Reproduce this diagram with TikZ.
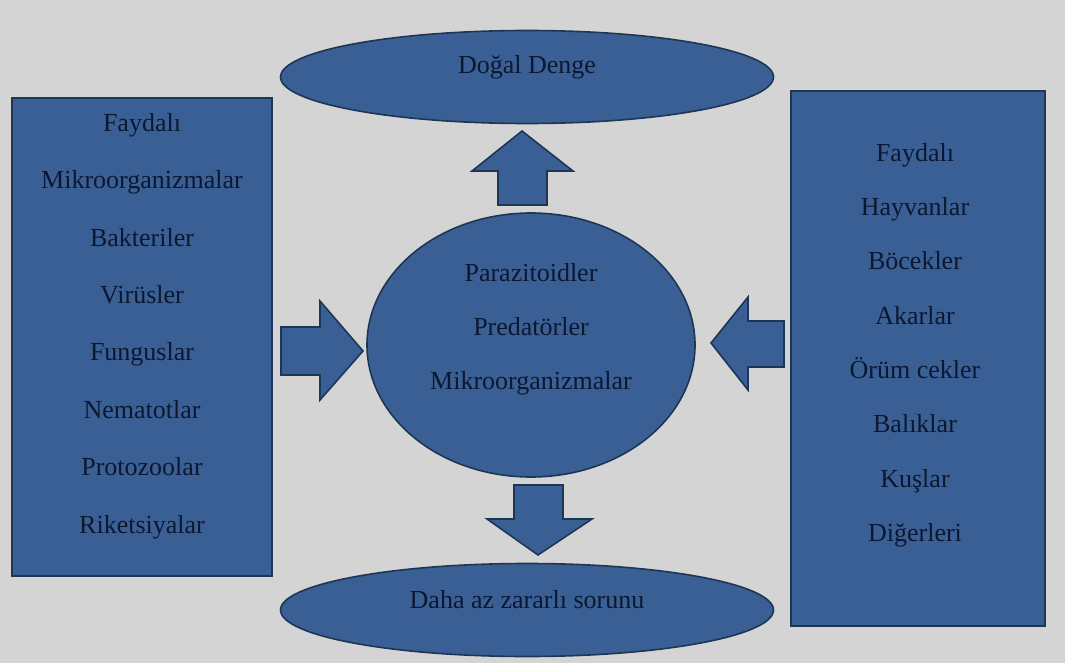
\documentclass[tikz,border=0pt]{standalone}
\usepackage{fontspec}
\setmainfont{Liberation Serif}
\usetikzlibrary{shapes.geometric,positioning}
\definecolor{bggrey}{HTML}{D4D4D4}
\definecolor{boxblue}{HTML}{3A5F95}
\definecolor{edgeblue}{HTML}{1E3656}
\definecolor{inkblue}{HTML}{0C1830}

\begin{document}
\begin{tikzpicture}[x=1pt,y=-1pt,
  every node/.style={font=\fontsize{26}{31}\selectfont,text=inkblue},
  label/.style={inner sep=0pt,text height=0.7em,text depth=0.25em},
  bluefill/.style={fill=boxblue,draw=edgeblue,line width=1.6pt,line join=miter},
  panel/.style={bluefill,rectangle,inner sep=0pt},
  oval/.style={bluefill,ellipse,inner sep=0pt}]
\fill[bggrey] (0,0) rectangle (1065,663);
\useasboundingbox (0,0) rectangle (1065,663);
% side panels
\node[panel,minimum width=260,minimum height=478] (leftbox) at (142,337) {};
\node[panel,minimum width=254,minimum height=535] (rightbox) at (918,358.5) {};
% ovals
\node[oval,minimum width=493,minimum height=93] (balance) at (527,77) {};
\node[oval,minimum width=493,minimum height=93] (lessharm) at (527,610) {};
\node[oval,minimum width=328,minimum height=264] (agents) at (531,345) {};
% block arrows
\draw[bluefill] (498,205)--(498,171)--(472,171)--(522,131)--(573,171)--(547,171)--(547,205)--cycle;
\draw[bluefill] (281,327)--(320,327)--(320,301)--(363,351)--(320,400)--(320,375)--(281,375)--cycle;
\draw[bluefill] (784,321)--(748,321)--(748,297)--(711,343)--(748,390)--(748,367)--(784,367)--cycle;
\draw[bluefill] (514,485)--(563,485)--(563,519)--(592,519)--(538,555)--(487,519)--(514,519)--cycle;
% texts
\node[label] (balancetext) at (527,71) {Doğal Denge};
\node[label] (lessharmtext) at (527,606) {Daha az zararlı sorunu};
\foreach \txt [count=\i] in {Parazitoidler,Predatörler,Mikroorganizmalar}
  \node[label] (agent\i) at (531,{279+54*(\i-1)}) {\txt};
\foreach \txt [count=\i] in {Faydalı,Mikroorganizmalar,Bakteriler,Virüsler,Funguslar,Nematotlar,Protozoolar,Riketsiyalar}
  \node[label] (micro\i) at (142,{129+57.4*(\i-1)}) {\txt};
\foreach \txt [count=\i] in {Faydalı,Hayvanlar,Böcekler,Akarlar,Örüm cekler,Balıklar,Kuşlar,Diğerleri}
  \node[label] (animal\i) at (915,{159+54.3*(\i-1)}) {\txt};
\end{tikzpicture}
\end{document}
